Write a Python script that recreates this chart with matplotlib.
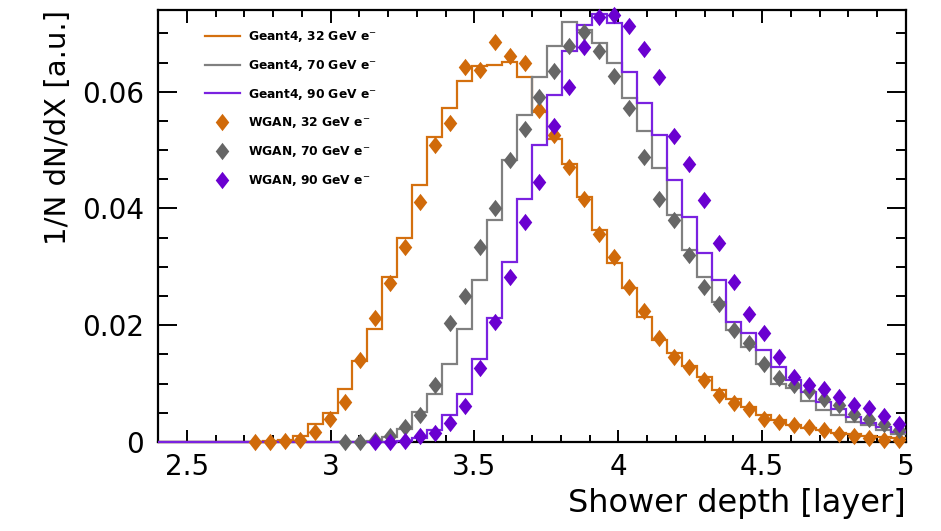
import numpy as np
import matplotlib
matplotlib.use("Agg")
import matplotlib.pyplot as plt
from matplotlib.path import Path
from matplotlib.ticker import MultipleLocator, FuncFormatter

# ---------------- data ----------------
x_min, x_max, n_bins = 2.4, 5.0, 50
nan = np.nan

g4_32 = [0, 0, 0, 0, 0, 0, 0, 0.0001, 0.0004, 0.0010,
         0.0030, 0.0049, 0.0091, 0.0139, 0.0194, 0.0283, 0.0349, 0.0440, 0.0522, 0.0572,
         0.0619, 0.0644, 0.0646, 0.0651, 0.0625, 0.0566, 0.0519, 0.0477, 0.0420, 0.0363,
         0.0306, 0.0263, 0.0214, 0.0174, 0.0152, 0.0131, 0.0112, 0.0089, 0.0074, 0.0060,
         0.0046, 0.0037, 0.0029, 0.0024, 0.0020, 0.0015, 0.0013, 0.0010, 0.0008, 0.0006]

g4_70 = [0, 0, 0, 0, 0, 0, 0, 0, 0, 0,
         0, 0, 0, 0, 0.0002, 0.0008, 0.0023, 0.0052, 0.0083, 0.0134,
         0.0194, 0.0277, 0.0380, 0.0483, 0.0560, 0.0626, 0.0679, 0.0720, 0.0705, 0.0683,
         0.0649, 0.0589, 0.0532, 0.0469, 0.0389, 0.0329, 0.0283, 0.0240, 0.0192, 0.0163,
         0.0134, 0.0100, 0.0092, 0.0071, 0.0054, 0.0046, 0.0034, 0.0029, 0.0020, 0.0014]

g4_90 = [0, 0, 0, 0, 0, 0, 0, 0, 0, 0,
         0, 0, 0, 0, 0, 0, 0.0002, 0.0006, 0.0020, 0.0046,
         0.0083, 0.0143, 0.0212, 0.0309, 0.0417, 0.0509, 0.0594, 0.0669, 0.0714, 0.0734,
         0.0717, 0.0634, 0.0580, 0.0526, 0.0449, 0.0386, 0.0323, 0.0278, 0.0206, 0.0186,
         0.0157, 0.0129, 0.0106, 0.0086, 0.0069, 0.0057, 0.0043, 0.0032, 0.0026, 0.0017]

gan_32 = [nan, nan, nan, nan, nan, nan, 0.0, 0.0, 0.0002, 0.0004,
          0.0017, 0.0040, 0.0069, 0.0140, 0.0212, 0.0272, 0.0334, 0.0411, 0.0509, 0.0546,
          0.0643, 0.0638, 0.0686, 0.0661, 0.0650, 0.0569, 0.0526, 0.0471, 0.0416, 0.0357,
          0.0317, 0.0265, 0.0225, 0.0178, 0.0146, 0.0129, 0.0107, 0.0081, 0.0066, 0.0057,
          0.0040, 0.0035, 0.0029, 0.0026, 0.0020, 0.0014, 0.0011, 0.0006, 0.0004, 0.0004]

gan_70 = [nan, nan, nan, nan, nan, nan, nan, nan, nan, nan,
          nan, nan, 0.0, 0.0, 0.0003, 0.0010, 0.0025, 0.0046, 0.0097, 0.0204,
          0.0250, 0.0334, 0.0400, 0.0483, 0.0537, 0.0591, 0.0635, 0.0678, 0.0703, 0.0669,
          0.0627, 0.0572, 0.0489, 0.0417, 0.0380, 0.0320, 0.0265, 0.0236, 0.0192, 0.0170,
          0.0134, 0.0110, 0.0098, 0.0088, 0.0073, 0.0064, 0.0048, 0.0039, 0.0030, 0.0021]

gan_90 = [nan, nan, nan, nan, nan, nan, nan, nan, nan, nan,
          nan, nan, nan, nan, 0.0, 0.0, 0.0002, 0.0010, 0.0015, 0.0032,
          0.0061, 0.0126, 0.0205, 0.0282, 0.0377, 0.0446, 0.0541, 0.0608, 0.0677, 0.0728,
          0.0731, 0.0713, 0.0674, 0.0625, 0.0524, 0.0477, 0.0415, 0.0341, 0.0274, 0.0220,
          0.0186, 0.0146, 0.0112, 0.0098, 0.0090, 0.0077, 0.0063, 0.0059, 0.0045, 0.0030]

labels_g4 = ["Geant4, 32 GeV e$^{-}$", "Geant4, 70 GeV e$^{-}$", "Geant4, 90 GeV e$^{-}$"]
labels_gan = ["WGAN, 32 GeV e$^{-}$", "WGAN, 70 GeV e$^{-}$", "WGAN, 90 GeV e$^{-}$"]

line_colors = ["#D4700F", "#808080", "#7A22E0"]
marker_colors = ["#D06A0A", "#666666", "#6A00D0"]

# ---------------- figure ----------------
W, H = 941, 531
fig = plt.figure(figsize=(W / 100, H / 100), dpi=100)
L, R, T, B = 158, 906, 10, 442
ax = fig.add_axes([L / W, 1 - B / H, (R - L) / W, (B - T) / H])

edges = np.linspace(x_min, x_max, n_bins + 1)
centers = 0.5 * (edges[:-1] + edges[1:])

diamond = Path([(0, 1), (0.78, 0), (0, -1), (-0.78, 0), (0, 1)],
               [Path.MOVETO, Path.LINETO, Path.LINETO, Path.LINETO, Path.CLOSEPOLY])

handles = []
for vals, col, lab in zip([g4_32, g4_70, g4_90], line_colors, labels_g4):
    ax.stairs(vals, edges, baseline=None, color=col, lw=1.6, zorder=3, clip_on=False)
    h, = ax.plot([], [], color=col, lw=1.6, label=lab)
    handles.append(h)
for vals, col, lab in zip([gan_32, gan_70, gan_90], marker_colors, labels_gan):
    h, = ax.plot(centers, vals, ls="none", marker=diamond, ms=12.5, color=col,
                 markeredgewidth=0, zorder=4, clip_on=False, label=lab)
    handles.append(h)

ax.set_xlim(x_min, x_max)
ax.set_ylim(0, 0.074)

ax.xaxis.set_major_locator(MultipleLocator(0.5))
ax.xaxis.set_minor_locator(MultipleLocator(0.1))
ax.yaxis.set_major_locator(MultipleLocator(0.02))
ax.yaxis.set_minor_locator(MultipleLocator(0.005))
ax.xaxis.set_major_formatter(FuncFormatter(lambda v, p: f"{v:g}"))
ax.yaxis.set_major_formatter(FuncFormatter(lambda v, p: "0" if abs(v) < 1e-9 else f"{v:.2f}"))

ax.tick_params(axis="both", which="both", direction="in", top=True, right=True, width=1.4)
ax.tick_params(axis="x", which="major", length=9, pad=8, labelsize=20)
ax.tick_params(axis="x", which="minor", length=5)
ax.tick_params(axis="y", which="major", length=14, pad=10, labelsize=20)
ax.tick_params(axis="y", which="minor", length=7)
for s in ax.spines.values():
    s.set_linewidth(1.6)

ax.set_xlabel("Shower depth [layer]", fontsize=23, loc="right", labelpad=5)
ax.set_ylabel("1/N dN/dX [a.u.]", fontsize=21, loc="top", labelpad=7)

fs = 8.8
leg = ax.legend(handles=handles, loc="upper left",
                bbox_to_anchor=((205 - L) / (R - L), (B - 29) / (B - T)),
                frameon=False, borderpad=0, borderaxespad=0, numpoints=1,
                handlelength=2.85, handletextpad=0.65, labelspacing=1.13,
                prop={"size": fs, "weight": "bold"})

fig.savefig("out.png", dpi=100)
